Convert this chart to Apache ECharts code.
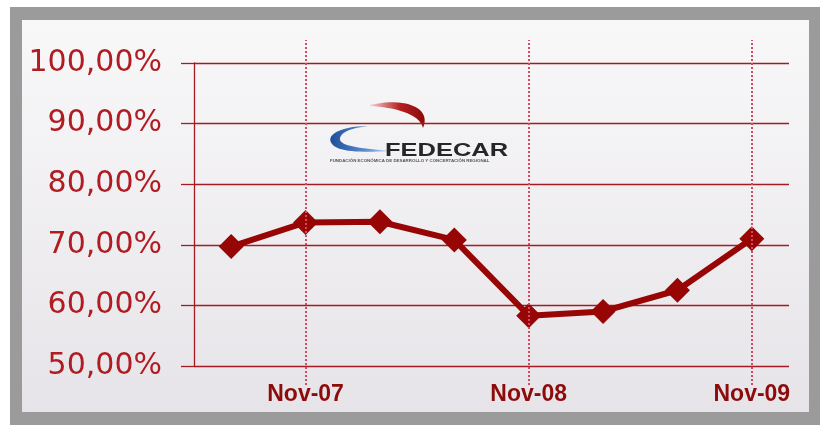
<!DOCTYPE html>
<html>
<head>
<meta charset="utf-8">
<script src="https://cdn.jsdelivr.net/npm/echarts@6/dist/echarts.min.js"></script>
<style>
html,body{margin:0;padding:0;background:#ffffff;}
#chart{width:820px;height:425px;}
</style>
</head>
<body>
<div id="chart"></div>
<script>
// ---- data ----
const categories = ['Jul-07','Nov-07','Mar-08','Jul-08','Nov-08','Mar-09','Jul-09','Nov-09'];
const values = [69.7, 73.7, 73.8, 70.8, 58.3, 59.0, 62.5, 71.0];
const tickLabels = ['Nov-07','Nov-08','Nov-09'];
const yTicks = [50, 60, 70, 80, 90, 100];
const logoName = 'FEDECAR';
const logoSubtitle = 'FUNDACIÓN ECONÓMICA DE DESARROLLO Y CONCERTACIÓN REGIONAL';

// helper to sample cubic bezier segments into polygon points (logo decoration only)
function bez(p0, p1, p2, p3, n) {
  const pts = [];
  for (let i = 0; i <= n; i++) {
    const t = i / n, u = 1 - t;
    pts.push([
      u*u*u*p0[0] + 3*u*u*t*p1[0] + 3*u*t*t*p2[0] + t*t*t*p3[0],
      u*u*u*p0[1] + 3*u*u*t*p1[1] + 3*u*t*t*p2[1] + t*t*t*p3[1]
    ]);
  }
  return pts;
}
const redSwoosh = bez([370,105],[404,97],[432,107],[423,128],20)
  .concat(bez([423,128],[420,116],[402,108],[370,106],20));
const blueSwoosh = bez([368,126],[340,126],[322,136],[334,146],15)
  .concat(bez([334,146],[344,153],[368,152],[392,151],15))
  .concat(bez([392,151],[368,149],[342,147],[340,140],15))
  .concat(bez([340,140],[339,132],[352,128],[368,126],15));

const chart = echarts.init(document.getElementById('chart'), null, {renderer:'canvas'});
const gridRed = '#a31c22';
const lineRed = '#970505';

chart.setOption({
  animation: false,
  backgroundColor: 'transparent',
  graphic: [
    { type:'rect', z:-20, silent:true, shape:{x:10,y:7,width:810,height:418}, style:{fill:'#9b9b9b'} },
    { type:'rect', z:-19, silent:true, shape:{x:22,y:20,width:787,height:392},
      style:{fill:new echarts.graphic.LinearGradient(0,0,0,1,[{offset:0,color:'#f9f8f9'},{offset:1,color:'#e6e4e8'}])} },
    { type:'polygon', z:-5, silent:true, shape:{points:redSwoosh},
      style:{fill:new echarts.graphic.LinearGradient(0,0,1,0,[{offset:0,color:'#f3d0d0'},{offset:0.55,color:'#b52020'},{offset:1,color:'#8c0a0a'}])} },
    { type:'polygon', z:-5, silent:true, shape:{points:blueSwoosh},
      style:{fill:new echarts.graphic.LinearGradient(0,0,1,0,[{offset:0,color:'#1c4f9c'},{offset:0.6,color:'#5f8fd0'},{offset:1,color:'#d0e0f4'}])} },
    { type:'text', z:-5, silent:true, x:385, y:141, scaleX:1.34,
      style:{text:logoName, fill:'#262626', font:'bold 19px "Liberation Sans", Arial, sans-serif', textVerticalAlign:'top'} },
    { type:'text', z:-5, silent:true, x:330, y:159,
      style:{text:logoSubtitle, fill:'#555555', font:'bold 4.4px "Liberation Sans", Arial, sans-serif', textVerticalAlign:'top'} }
  ],
  grid: [
    { left:194, right:31, top:63, bottom:59 },
    { left:194, right:31, top:40, bottom:40 }
  ],
  xAxis: [
    { type:'category', gridIndex:0, data:categories, boundaryGap:true,
      axisLine:{show:false}, axisTick:{show:false}, splitLine:{show:false},
      axisLabel:{ interval:0, margin:17, color:'#8e0b0b', fontSize:23, fontWeight:'bold',
        fontFamily:'"Liberation Sans", Arial, sans-serif',
        formatter: v => tickLabels.includes(v) ? v : '' } },
    { type:'category', gridIndex:1, data:categories, boundaryGap:true, show:false }
  ],
  yAxis: [
    { type:'value', gridIndex:0, min:50, max:100, interval:10,
      axisLine:{show:true, lineStyle:{color:gridRed, width:1.3}},
      axisTick:{show:true, length:13, lineStyle:{color:gridRed, width:1.3}},
      splitLine:{show:true, lineStyle:{color:gridRed, width:1.3}},
      axisLabel:{ margin:32, color:'#b01c22', fontSize:30,
        fontFamily:'"DejaVu Sans", sans-serif',
        formatter: v => yTicks.includes(v) ? v.toFixed(2).replace('.', ',') + '%' : '' } },
    { type:'value', gridIndex:1, min:0, max:1, show:false }
  ],
  series: [
    { type:'line', xAxisIndex:1, yAxisIndex:1, data:categories.map(() => null), silent:true,
      markLine:{ silent:true, symbol:['none','none'], label:{show:false},
        lineStyle:{type:'dotted', color:'#d44a62', width:2},
        data: tickLabels.map(l => ({xAxis:l})) } },
    { type:'line', xAxisIndex:0, yAxisIndex:0, data:values,
      symbol:'diamond', symbolSize:25,
      lineStyle:{color:lineRed, width:6},
      itemStyle:{color:lineRed} }
  ]
});
</script>
</body>
</html>
